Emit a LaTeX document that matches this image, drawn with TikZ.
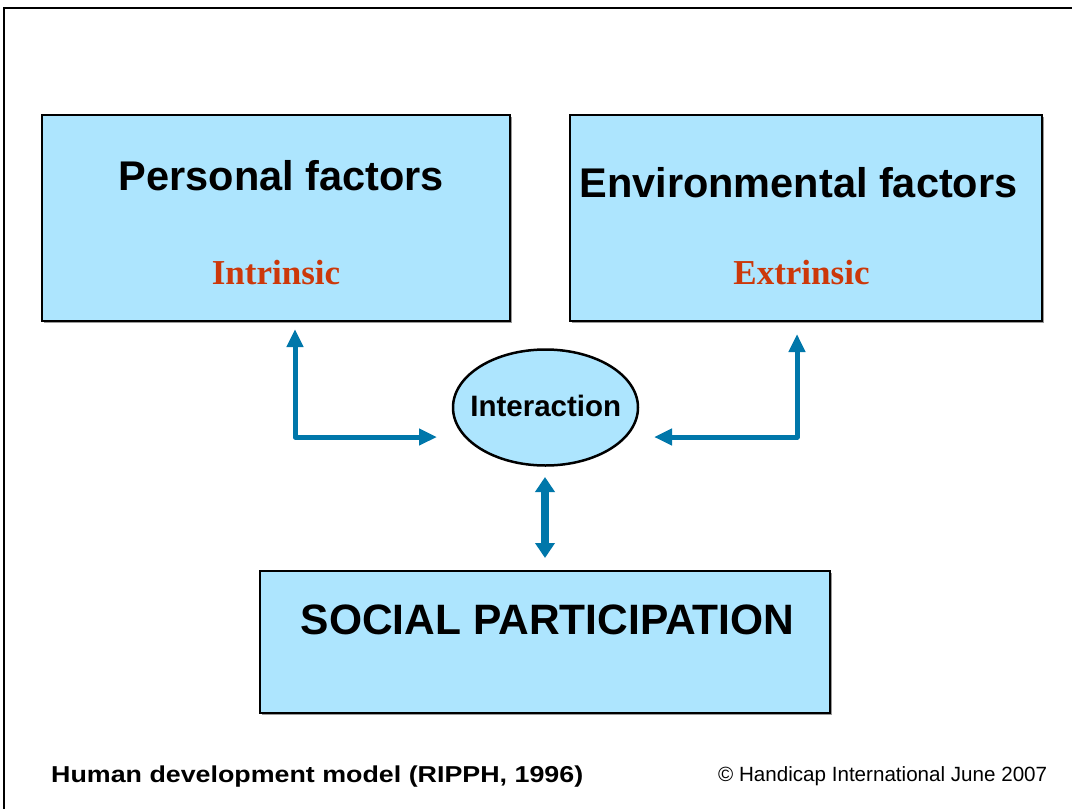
\documentclass[tikz,border=0pt]{standalone}
\usepackage{fontspec}
\setmainfont{Liberation Sans}
\newfontfamily\serifbold{Liberation Serif}
\usetikzlibrary{arrows.meta,shapes.geometric,shadows}
\definecolor{boxblue}{RGB}{173,229,254}
\definecolor{arrowblue}{RGB}{0,119,170}
\definecolor{accentred}{RGB}{204,56,10}
\tikzset{
  factorbox/.style={draw=black, line width=2pt, fill=boxblue, rectangle, inner sep=0pt,
    drop shadow={shadow xshift=1.5pt, shadow yshift=-1.5pt, fill=gray!80, opacity=1}},
  hubellipse/.style={draw=black, line width=2.5pt, fill=boxblue, ellipse, inner sep=0pt},
  title/.style={anchor=base, inner sep=0pt, font=\bfseries\fontsize{41.5}{45}\selectfont},
  subtitle/.style={anchor=base, inner sep=0pt, text=accentred, font=\serifbold\bfseries\fontsize{35}{38}\selectfont},
  linkarrow/.style={draw=arrowblue, line width=5pt, line join=round,
    {Triangle[width=16pt,length=18pt]}-{Triangle[width=16pt,length=18pt]}},
  bigarrow/.style={draw=arrowblue, line width=8.5pt,
    {Triangle[width=19pt,length=15pt]}-{Triangle[width=19pt,length=15pt]}},
}
\begin{document}
\begin{tikzpicture}[x=1pt, y=-1pt]
\useasboundingbox (0,0) rectangle (1072,809);
\fill[white] (0,0) rectangle (1072,809);
% outer frame
\draw[line width=2pt] (4,820) -- (4,8) -- (1075,8);

% boxes
\node[factorbox, minimum width=468pt, minimum height=206pt] (personal) at (276,218) {};
\node[factorbox, minimum width=472pt, minimum height=206pt] (environ) at (806,218) {};
\node[factorbox, minimum width=570pt, minimum height=142pt] (social) at (545,642) {};
\node[hubellipse, minimum width=185pt, minimum height=116pt] (hub) at (545.5,407.5) {};

% texts
\node[title] (ptitle) at (281.5,190) {Personal factors};
\node[title] (etitle) at (798.5,197) {Environmental factors};
\node[subtitle] (psub) at (276,284) {Intrinsic};
\node[subtitle] (esub) at (801.5,284) {Extrinsic};
\node[anchor=base, inner sep=0pt, font=\bfseries\fontsize{29.5}{32}\selectfont] (htext) at (545.8,416.5) {Interaction};
\node[anchor=base, inner sep=0pt, font=\bfseries\fontsize{42.5}{46}\selectfont] (stext) at (547.5,634) {SOCIAL PARTICIPATION};

% connector coordinates
\coordinate (pTip) at (295,329);
\coordinate (pCorner) at (295,437);
\coordinate (hLeft) at (437,437);
\coordinate (eTip) at (797,334);
\coordinate (eCorner) at (797,437);
\coordinate (hRight) at (654,437);
\coordinate (hBottom) at (545,477);
\coordinate (sTop) at (545,558);

\draw[linkarrow] (pTip) -- (pCorner) -- (hLeft);
\draw[linkarrow] (eTip) -- (eCorner) -- (hRight);
\draw[bigarrow] (hBottom) -- (sTop);

% footer
\node[anchor=base west, inner sep=0pt, font=\bfseries\fontsize{23}{27}\selectfont] (caption) at (51,782) {\scalebox{1.166}[1]{Human development model (RIPPH, 1996)}};
\node[anchor=base west, inner sep=0pt, font=\fontsize{20.6}{24}\selectfont] (credit) at (718,781) {© Handicap International June 2007};
\end{tikzpicture}
\end{document}
